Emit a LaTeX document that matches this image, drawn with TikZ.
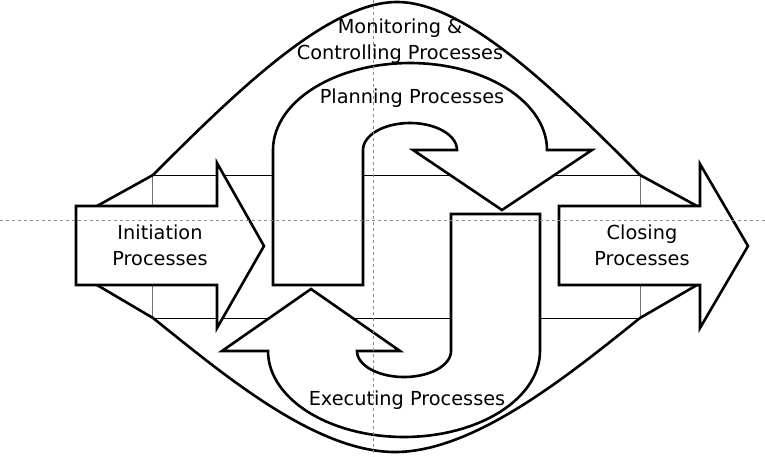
\documentclass[tikz,border=0pt]{standalone}
\usepackage{fontspec}
\setmainfont{DejaVu Sans}
\begin{document}
\begin{tikzpicture}[x=1pt,y=-1pt,
  shapeline/.style={line width=2.6pt, line join=miter, draw=black, fill=white},
  curveline/.style={line width=2.6pt, draw=black},
  thinh/.style={line width=1pt, draw=black},
  thinv/.style={line width=1pt, draw=black!55},
  guide/.style={draw=black!45, line width=0.8pt, dash pattern=on 3pt off 3pt},
  lbl/.style={font=\fontsize{19.3}{25.5}\selectfont, align=center, inner sep=0pt}]
\useasboundingbox (0,0) rectangle (765,456);
% thin frame
\draw[thinh] (152,175) -- (640,175);
\draw[thinh] (152,318) -- (640,318);
\draw[thinv] (152,175) -- (152,318);
\draw[thinv] (640,175) -- (640,318);
% monitoring & controlling outline
\draw[curveline] (97,206) -- (153,175) .. controls (233,95) and (327,2) .. (397,2) .. controls (467,2) and (560,95) .. (640,175) -- (697,206);
\draw[curveline] (97,285) -- (153,318) .. controls (223,374) and (315,452) .. (395,452) .. controls (475,452) and (570,374) .. (640,318) -- (697,285);
% initiation arrow
\draw[shapeline] (76,206) -- (217,206) -- (217,163) -- (264,246) -- (217,328) -- (217,285) -- (76,285) -- cycle;
% closing arrow
\draw[shapeline] (559,206) -- (700,206) -- (700,164) -- (748,246) -- (700,328) -- (700,285) -- (559,285) -- cycle;
% planning
\draw[shapeline] (273,285) -- (363,285) -- (363,150)
  -- plot[domain=180:0,samples=40] ({410+47*cos(\x)},{150-27*sin(\x)})
  -- (413,150) -- (502,210) -- (592,150) -- (547,150)
  -- plot[domain=0:180,samples=60] ({410+137*cos(\x)},{150-87*sin(\x)}) -- cycle;
% executing
\draw[shapeline] (451,214) -- (540,214) -- (540,351)
  -- plot[domain=0:-180,samples=60] ({404+136*cos(\x)},{351-86*sin(\x)})
  -- (222,351) -- (311,289) -- (400,351) -- (357,351)
  -- plot[domain=-180:0,samples=40] ({404+47*cos(\x)},{351-26*sin(\x)}) -- cycle;
% labels (multi-line nodes: base = baseline of last line)
\node[lbl, anchor=base] (moni) at (400,59) {Monitoring \&\\Controlling Processes};
\node[lbl, anchor=base] (plan) at (412,103) {Planning Processes};
\node[lbl, anchor=base] (exec) at (407,405) {Executing Processes};
\node[lbl, anchor=base] (init) at (160,265) {Initiation\\Processes};
\node[lbl, anchor=base] (clos) at (642,265) {Closing\\Processes};
% guides
\draw[guide] (0,220) -- (765,220);
\draw[guide] (373,0) -- (373,456);
\end{tikzpicture}
\end{document}
